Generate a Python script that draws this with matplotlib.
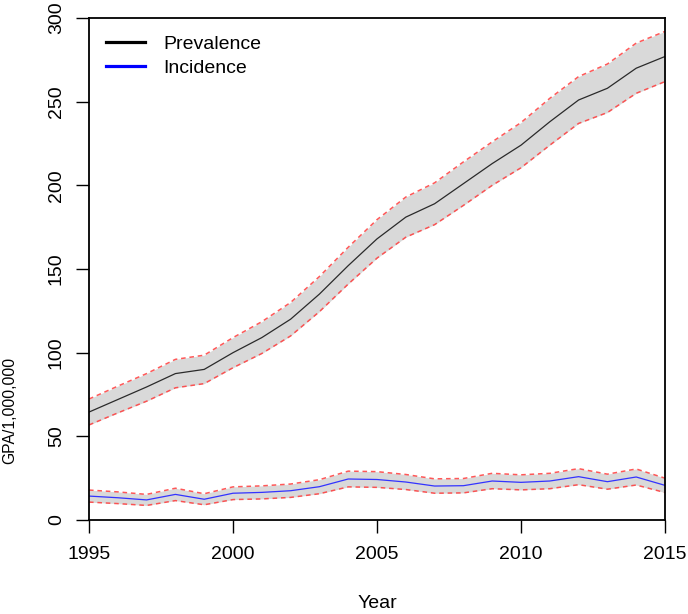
import numpy as np
import matplotlib
matplotlib.use("Agg")
import matplotlib.pyplot as plt

plt.rcParams['font.family'] = ['Liberation Sans', 'DejaVu Sans']

# values
years = list(range(1995, 2016))

prevalence = [64.5, 72, 79.5, 87.5, 90, 100, 109, 120, 135, 152, 168,
              181, 189, 201, 213, 224, 238, 251, 258, 270, 277]
prev_upper = [72.3, 80, 87.5, 96, 98.5, 109, 118.5, 130, 145.5, 163, 179.5,
              193, 201.5, 214, 226, 237.5, 252, 265, 272.5, 285, 292]
prev_lower = [56.8, 64, 71, 79, 81.5, 91, 99.5, 110, 124.5, 141, 156.5,
              169, 176.5, 188, 200, 210.5, 224, 237, 243.5, 255, 262]

incidence = [14.3, 13.3, 12.0, 15.3, 12.4, 16.0, 16.5, 17.5, 19.9, 24.5, 24.2,
             22.7, 20.3, 20.5, 23.3, 22.5, 23.3, 25.9, 22.9, 25.7, 20.7]
inc_upper = [17.9, 16.8, 15.3, 19.0, 15.7, 19.8, 20.4, 21.5, 24.1, 29.2, 28.9,
             27.2, 24.6, 24.8, 27.9, 27.0, 27.9, 30.7, 27.4, 30.5, 25.0]
inc_lower = [10.7, 9.8, 8.7, 11.6, 9.1, 12.2, 12.6, 13.5, 15.7, 19.8, 19.5,
             18.2, 16.0, 16.2, 18.7, 18.0, 18.7, 21.1, 18.4, 20.9, 16.4]

fig = plt.figure(figsize=(6.88, 6.14), dpi=100)
ax = fig.add_axes([89/688, 1 - 520/614, 576/688, 502/614])

band_col = "#d9d9d9"
red = "#ff3b3b"

for mid, lo, hi, col in [(prevalence, prev_lower, prev_upper, "#2a2a2a"),
                         (incidence, inc_lower, inc_upper, "#3333ff")]:
    ax.fill_between(years, lo, hi, color=band_col, lw=0)
    ax.plot(years, lo, color=red, lw=1.1, ls=(0, (3, 2.5)), alpha=0.85)
    ax.plot(years, hi, color=red, lw=1.1, ls=(0, (3, 2.5)), alpha=0.85)
    ax.plot(years, mid, color=col, lw=0.9)

ax.set_xlim(1995, 2015)
ax.set_ylim(0, 300)
ax.set_xticks(range(1995, 2016, 5))
ax.set_yticks(range(0, 301, 50))
ax.tick_params(direction='out', length=9.4, width=1.0, labelsize=14, pad=9)
ax.tick_params(axis='y', pad=8)
for lab in ax.get_yticklabels():
    lab.set_rotation(90)
    lab.set_va('center')
for sp in ax.spines.values():
    sp.set_linewidth(1.3)

fig.text(377/688, 1 - 604/614, "Year", fontsize=14, ha='center', va='center')
fig.text(10/688, 1 - 410/614, "GPA/1,000,000", fontsize=11.3, rotation=90,
         ha='center', va='center')

# legend handles
h1, = ax.plot([], [], color='black', lw=2.3, label='Prevalence')
h2, = ax.plot([], [], color='blue', lw=2.3, label='Incidence')
ax.legend(handles=[h1, h2], loc='upper left', bbox_to_anchor=(0.0295, 0.966),
          frameon=False, fontsize=14, borderpad=0, borderaxespad=0,
          handlelength=2.0, handletextpad=0.93, labelspacing=0.36)

fig.savefig("out.png", dpi=100)
